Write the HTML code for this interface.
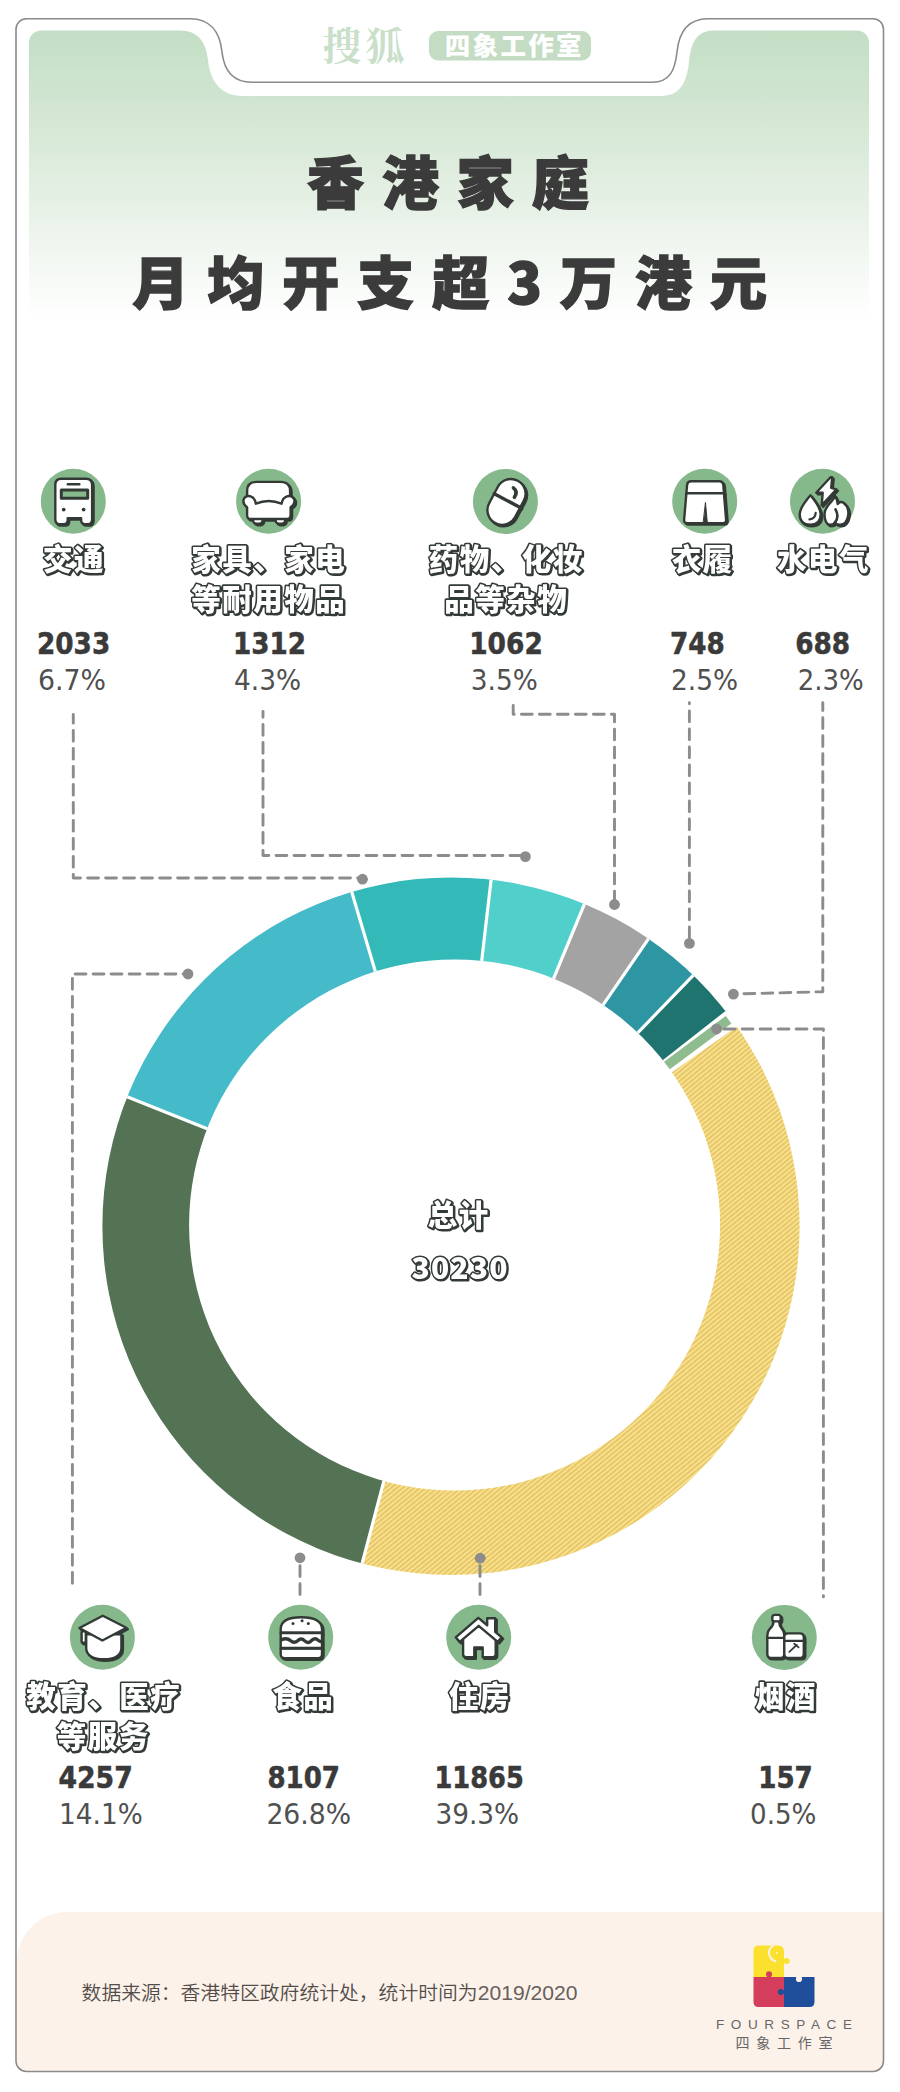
<!DOCTYPE html>
<html lang="zh"><head><meta charset="utf-8"><title>香港家庭月均开支超3万港元</title>
<style>html,body{margin:0;padding:0;background:#fff}body{width:900px;height:2092px;overflow:hidden}svg{display:block}</style>
</head><body>
<svg width="900" height="2092" viewBox="0 0 900 2092"><defs>
<linearGradient id="gtop" x1="0" y1="0" x2="0" y2="1">
<stop offset="0" stop-color="#c3dec4"/><stop offset="0.33" stop-color="#d6e8d6"/><stop offset="0.62" stop-color="#e9f2e8"/><stop offset="0.85" stop-color="#f8fbf8"/><stop offset="0.97" stop-color="#ffffff"/>
</linearGradient>
<pattern id="hatch" width="3.7" height="3.7" patternUnits="userSpaceOnUse" patternTransform="rotate(-39.6)">
<rect width="3.7" height="3.7" fill="#f9e08c"/><rect y="0" width="3.7" height="1.55" fill="#e2c262"/>
</pattern>
</defs>
<path d="M41 30.5 H180 C198 30.5 206 42 208 60 C210 82 222 96 242 96 H661 C680 96 687 82 689 62 C691 42 697 30.5 714 30.5 H857 A12 12 0 0 1 869 42.5 V330 H29 V42.5 A12 12 0 0 1 41 30.5 Z" fill="url(#gtop)"/>
<path d="M17 2071 V1962 A50 50 0 0 1 67 1912 H883 V2061 A10 10 0 0 1 873 2071 H27 A10 10 0 0 1 17 2061 Z" fill="#fdf2ea"/>
<path d="M26.5 18.7 H190 C210 18.7 220 32 222 52 C224 70 232 82.3 252 82.3 H652 C670 82.3 675 70 677 52 C679 32 688 18.7 708 18.7 H873 A10.5 10.5 0 0 1 883.5 29.2 V2061 A10.5 10.5 0 0 1 873 2071.5 H26.5 A10.5 10.5 0 0 1 16 2061 V29.2 A10.5 10.5 0 0 1 26.5 18.7 Z" fill="none" stroke="#8a8a8a" stroke-width="1.6"/>
<text x="322.5" y="59.5" font-family="'Noto Serif CJK SC','Liberation Serif',serif" font-weight="700" font-size="39" fill="#c9dfc9" letter-spacing="4">搜狐</text>
<rect x="429" y="31" width="162" height="29.5" rx="9" fill="#c3dcc3"/>
<text x="514.3" y="55.2" text-anchor="middle" font-family="'Liberation Sans','Noto Sans CJK SC',sans-serif" font-weight="900" font-size="25.5" fill="#fff" letter-spacing="2.3">四象工作室</text>
<text x="307" y="204" font-family="'Liberation Sans','Noto Sans CJK SC',sans-serif" font-weight="900" stroke="#3b3b3b" stroke-width="1.4" font-size="57" letter-spacing="17.9" fill="#3b3b3b">香港家庭</text>
<text x="132.3" y="304" font-family="'Liberation Sans','Noto Sans CJK SC',sans-serif" font-weight="900" stroke="#3b3b3b" stroke-width="1.4" font-size="57" letter-spacing="18" fill="#3b3b3b">月均开支超<tspan font-family="'Noto Sans CJK SC',sans-serif">3</tspan>万港元</text>
<clipPath id="ring"><path clip-rule="evenodd" d="M102.39999999999998 1226.2 A348.6 348.6 0 1 0 799.6 1226.2 A348.6 348.6 0 1 0 102.39999999999998 1226.2 Z M189.10000000000002 1225.0 A265.5 265.5 0 1 0 720.1 1225.0 A265.5 265.5 0 1 0 189.10000000000002 1225.0 Z"/></clipPath>
<g clip-path="url(#ring)">
<path d="M451.0 1226.2 L760.37 1007.96 A378.6 378.6 0 0 1 354.54 1592.31 Z" fill="url(#hatch)"/>
<path d="M451.0 1226.2 L354.54 1592.31 A378.6 378.6 0 0 1 99.43 1085.72 Z" fill="#547354"/>
<path d="M451.0 1226.2 L99.43 1085.72 A378.6 378.6 0 0 1 343.22 863.27 Z" fill="#45bac9"/>
<path d="M451.0 1226.2 L343.22 863.27 A378.6 378.6 0 0 1 494.52 850.11 Z" fill="#33bab8"/>
<path d="M451.0 1226.2 L494.52 850.11 A378.6 378.6 0 0 1 595.88 876.42 Z" fill="#50cfcb"/>
<path d="M451.0 1226.2 L595.88 876.42 A378.6 378.6 0 0 1 665.44 914.19 Z" fill="#a3a3a3"/>
<path d="M451.0 1226.2 L665.44 914.19 A378.6 378.6 0 0 1 714.00 953.86 Z" fill="#2e95a3"/>
<path d="M451.0 1226.2 L714.00 953.86 A378.6 378.6 0 0 1 749.95 993.89 Z" fill="#20746f"/>
<line x1="451.0" y1="1226.2" x2="760.37" y2="1007.96" stroke="#fff" stroke-width="3.2"/>
<line x1="451.0" y1="1226.2" x2="354.54" y2="1592.31" stroke="#fff" stroke-width="3.2"/>
<line x1="451.0" y1="1226.2" x2="99.43" y2="1085.72" stroke="#fff" stroke-width="3.2"/>
<line x1="451.0" y1="1226.2" x2="343.22" y2="863.27" stroke="#fff" stroke-width="3.2"/>
<line x1="451.0" y1="1226.2" x2="494.52" y2="850.11" stroke="#fff" stroke-width="3.2"/>
<line x1="451.0" y1="1226.2" x2="595.88" y2="876.42" stroke="#fff" stroke-width="3.2"/>
<line x1="451.0" y1="1226.2" x2="665.44" y2="914.19" stroke="#fff" stroke-width="3.2"/>
<line x1="451.0" y1="1226.2" x2="714.00" y2="953.86" stroke="#fff" stroke-width="3.2"/>
<path d="M451.0 1226.2 L748.93 992.59 L761.32 1009.31 Z" fill="#fff"/>
<line x1="451.0" y1="1226.2" x2="728.59" y2="1019.66" stroke="#8fbc8f" stroke-width="9.4"/>
</g>
<defs>
<g id="i-bus" stroke="#333a36" stroke-width="2.4" stroke-linejoin="round" stroke-linecap="round">
<path d="M-18 -16.5 Q-18 -22.5 -12 -22.5 H12.6 Q18.8 -22.5 18.8 -16.5 V18 Q18.8 22.8 14.8 22.8 H11.8 Q7.8 22.8 7.8 18.6 V16.8 H-5.6 V18.6 Q-5.6 22.8 -9.6 22.8 H-13.8 Q-18 22.8 -18 18 Z"/>
<path d="M-5.5 -17 H6" fill="none"/>
<rect x="-12" y="-11.3" width="26.4" height="8.2" fill="#85b98b" stroke-width="3"/>
<circle cx="-9.6" cy="8.3" r="1.9" fill="#333a36" stroke="none"/>
<circle cx="10.3" cy="8.3" r="1.9" fill="#333a36" stroke="none"/>
</g>
<g id="i-sofa" stroke="#333a36" stroke-width="2.4" stroke-linejoin="round" stroke-linecap="round">
<path d="M-21.5 4 V-10 Q-21.5 -19.3 -12 -19.3 H12 Q21.5 -19.3 21.5 -10 V4 Z"/>
<rect x="-15.5" y="15.5" width="9.5" height="7" rx="3.2"/>
<rect x="7" y="15.5" width="9.5" height="7" rx="3.2"/>
<path d="M-21.5 14 V6 Q-26 3 -25 -1.5 Q-23.5 -6 -18.5 -5 Q-13.5 -3.5 -12.8 2.5 Q0 -3 13 2.5 Q13.8 -3.5 19 -5 Q24 -6 25.7 -1.5 Q26.8 3 22 6 V14 Q22 17.8 18.5 17.8 H-18 Q-21.5 17.8 -21.5 14 Z"/>
</g>
<g id="i-pill" stroke="#333a36" stroke-width="2.4" stroke-linejoin="round" stroke-linecap="round">
<g transform="translate(1.1 0.4) rotate(28)">
<rect x="-14.7" y="-24" width="29.4" height="48" rx="14.7"/>
<path d="M-14.7 -1.5 H14.7" fill="none" stroke-width="3.4"/>
</g>
<path d="M8 -13.6 Q12.8 -10 9 -4.2" fill="none" stroke-width="3.6"/>
</g>
<g id="i-shorts" stroke="#333a36" stroke-width="2.4" stroke-linejoin="round" stroke-linecap="round">
<path d="M-17.6 -16.5 Q-17.2 -20 -13.5 -20 H14.5 Q18.2 -20 18.6 -16.5 L21.4 18.6 Q21.6 21.8 18.4 21.8 H-17.6 Q-20.8 21.8 -20.6 18.6 Z"/>
<path d="M-18.5 -8 H19.3" fill="none"/>
<path d="M0.8 1.5 L2.6 21.5 H-1.2 Z" fill="#333a36" stroke-width="1"/>
</g>
<g id="i-util" stroke="#333a36" stroke-width="2.4" stroke-linejoin="round" stroke-linecap="round">
<path d="M12.5 -5.5 C14.5 -2.5 15 0 15.2 2.8 C17 0.5 19.5 0 21 1.5 C25.5 5 26.5 10 25.5 15 C24.5 20.5 21 23.5 17.5 23.5 C15 23.5 13.5 22.5 12.5 21 C11.5 22.5 10 23.5 7.5 23.5 C4 23.5 2 19 2 13 C2 7 6 3 9 0 C10.5 -1.5 11.8 -3.5 12.5 -5.5 Z"/>
<path d="M12.5 21 C15.8 17 15.5 12.5 13 8" fill="none" stroke-width="2.6"/>
<path d="M-12 -6 Q-1.8 6.5 -1.8 13 Q-1.8 23.5 -12.3 23.5 Q-22.8 23.5 -22.8 13 Q-22.8 6.5 -12 -6 Z"/>
<path d="M-6.8 11.5 Q-7.3 17.5 -13 18" fill="none" stroke-width="2.2"/>
<path d="M8 -24 L-6.3 -8.6 H0.2 L-0.8 4 L14 -12 L8.7 -13.5 L9.7 -24 Z"/>
</g>
<g id="i-cap" stroke="#333a36" stroke-width="2.4" stroke-linejoin="round" stroke-linecap="round">
<path d="M-16.2 -3 V11 C-16.2 18 -9 22 1.5 22 C12 22 19 18 19 11 V-3 Z"/>
<rect x="-20.8" y="-6" width="4.2" height="11.5" rx="1"/>
<path d="M0.4 -21.5 L24 -9.6 L0 3.2 L-23 -9.3 Z"/>
</g>
<g id="i-burger" stroke="#333a36" stroke-width="2.4" stroke-linejoin="round" stroke-linecap="round">
<path d="M-20 -4.4 V-8 Q-20 -20 0.5 -20 Q21.3 -20 21.3 -8 V-4.4 Z"/>
<path d="M-20 -4.4 H21.3 V10.9 H-20 Z"/>
<path d="M-20 10.9 H21.3 V17 Q21.3 20.9 17.5 20.9 H-16 Q-20 20.9 -20 17 Z"/>
<path d="M-20 -4.4 H21.3 M-20 10.9 H21.3" fill="none" stroke-width="2.9" stroke-linecap="butt"/>
<path d="M-19.5 2.6 Q-14 0 -10 3.4 Q-6.5 6.4 -3 3.4 Q0.5 0 4 3.6 Q7.5 7 11 3 Q14.5 0 17 2.6 Q19 4.6 21 4" fill="none" stroke-width="3.4" stroke-linecap="butt"/>
<circle cx="-7.7" cy="-13.8" r="1.5" fill="#333a36" stroke="none"/>
<circle cx="1.4" cy="-16.6" r="1.5" fill="#333a36" stroke="none"/>
<circle cx="7.6" cy="-13.8" r="1.5" fill="#333a36" stroke="none"/>
</g>
<g id="i-house" stroke="#333a36" stroke-width="2.4" stroke-linejoin="round" stroke-linecap="round">
<path d="M-15.6 1 V17 Q-15.6 20 -12.6 20 H-4.4 V10.2 H4 V20 H14 Q17 20 17 17 V1 L0 -12 Z"/>
<path d="M-0.4 -19.5 L8.5 -12 V-19 H16.5 V-5.5 L23 0 L19 4.6 L0 -11.5 L-19 4.6 L-23 0 Z"/>
</g>
<g id="i-bottle" stroke="#333a36" stroke-width="2.4" stroke-linejoin="round" stroke-linecap="round">
<rect x="-12" y="-22.5" width="8.4" height="7" rx="2.5"/>
<path d="M-10.8 -16 Q-10.8 -12 -14.5 -8.5 Q-17 -6 -17 -2 V16.5 Q-17 20.5 -13 20.5 H-4 Q0 20.5 0 16.5 V-2 Q0 -6 -2.3 -8.5 Q-5.2 -12 -5.2 -16 Z"/>
<path d="M-17 0.5 H0" fill="none"/>
<path d="M0 -0.5 Q0 -4 4 -4 H15.5 Q19.5 -4 19.5 0 V16.5 Q19.5 20.5 15.5 20.5 H4 Q0 20.5 0 16.5 Z"/>
<path d="M0 3.5 H19.5" fill="none"/>
<path d="M5 14.5 L12.5 7.5 M10 6.3 L14.3 10" fill="none" stroke-width="1.8"/>
</g>
</defs>
<circle cx="73.3" cy="501.3" r="32.5" fill="#85b98b"/>
<use href="#i-bus" x="74.8" y="502.8" fill="#333a36"/>
<use href="#i-bus" x="73.3" y="501.3" fill="#fff"/>
<circle cx="268.6" cy="501.2" r="32.5" fill="#85b98b"/>
<use href="#i-sofa" x="270.1" y="502.7" fill="#333a36"/>
<use href="#i-sofa" x="268.6" y="501.2" fill="#fff"/>
<circle cx="505.4" cy="501.5" r="32.5" fill="#85b98b"/>
<use href="#i-pill" x="506.9" y="503.0" fill="#333a36"/>
<use href="#i-pill" x="505.4" y="501.5" fill="#fff"/>
<circle cx="704.7" cy="501.3" r="32.5" fill="#85b98b"/>
<use href="#i-shorts" x="706.2" y="502.8" fill="#333a36"/>
<use href="#i-shorts" x="704.7" y="501.3" fill="#fff"/>
<circle cx="822.5" cy="501.3" r="32.5" fill="#85b98b"/>
<use href="#i-util" x="824.0" y="502.8" fill="#333a36"/>
<use href="#i-util" x="822.5" y="501.3" fill="#fff"/>
<circle cx="102.4" cy="1637.3" r="32.5" fill="#85b98b"/>
<use href="#i-cap" x="103.9" y="1638.8" fill="#333a36"/>
<use href="#i-cap" x="102.4" y="1637.3" fill="#fff"/>
<circle cx="300.7" cy="1637.3" r="32.5" fill="#85b98b"/>
<use href="#i-burger" x="302.2" y="1638.8" fill="#333a36"/>
<use href="#i-burger" x="300.7" y="1637.3" fill="#fff"/>
<circle cx="478.7" cy="1637.3" r="32.5" fill="#85b98b"/>
<use href="#i-house" x="480.2" y="1638.8" fill="#333a36"/>
<use href="#i-house" x="478.7" y="1637.3" fill="#fff"/>
<circle cx="784.3" cy="1637.4" r="32.5" fill="#85b98b"/>
<use href="#i-bottle" x="785.8" y="1638.9" fill="#333a36"/>
<use href="#i-bottle" x="784.3" y="1637.4" fill="#fff"/>
<defs><filter id="sh" x="-5%" y="-12%" width="110%" height="130%"><feOffset in="SourceAlpha" dx="0.7" dy="0.7" result="o"/><feFlood flood-color="#333a36"/><feComposite in2="o" operator="in" result="s"/><feMerge><feMergeNode in="s"/><feMergeNode in="SourceGraphic"/></feMerge></filter></defs>
<text x="74.0" y="570.0" text-anchor="middle" font-family="'Liberation Sans','Noto Sans CJK SC',sans-serif" font-weight="900" font-size="29.5" letter-spacing="1.5" fill="#fff" stroke="#333a36" stroke-width="3.1" stroke-linejoin="round" paint-order="stroke" filter="url(#sh)">交通</text>
<text x="268.8" y="570.0" text-anchor="middle" font-family="'Liberation Sans','Noto Sans CJK SC',sans-serif" font-weight="900" font-size="29.5" letter-spacing="1.5" fill="#fff" stroke="#333a36" stroke-width="3.1" stroke-linejoin="round" paint-order="stroke" filter="url(#sh)">家具、家电</text>
<text x="268.8" y="610.0" text-anchor="middle" font-family="'Liberation Sans','Noto Sans CJK SC',sans-serif" font-weight="900" font-size="29.5" letter-spacing="1.5" fill="#fff" stroke="#333a36" stroke-width="3.1" stroke-linejoin="round" paint-order="stroke" filter="url(#sh)">等耐用物品</text>
<text x="506.2" y="570.0" text-anchor="middle" font-family="'Liberation Sans','Noto Sans CJK SC',sans-serif" font-weight="900" font-size="29.5" letter-spacing="1.5" fill="#fff" stroke="#333a36" stroke-width="3.1" stroke-linejoin="round" paint-order="stroke" filter="url(#sh)">药物、化妆</text>
<text x="506.2" y="610.0" text-anchor="middle" font-family="'Liberation Sans','Noto Sans CJK SC',sans-serif" font-weight="900" font-size="29.5" letter-spacing="1.5" fill="#fff" stroke="#333a36" stroke-width="3.1" stroke-linejoin="round" paint-order="stroke" filter="url(#sh)">品等杂物</text>
<text x="702.8" y="570.0" text-anchor="middle" font-family="'Liberation Sans','Noto Sans CJK SC',sans-serif" font-weight="900" font-size="29.5" letter-spacing="1.5" fill="#fff" stroke="#333a36" stroke-width="3.1" stroke-linejoin="round" paint-order="stroke" filter="url(#sh)">衣履</text>
<text x="823.5" y="570.0" text-anchor="middle" font-family="'Liberation Sans','Noto Sans CJK SC',sans-serif" font-weight="900" font-size="29.5" letter-spacing="1.5" fill="#fff" stroke="#333a36" stroke-width="3.1" stroke-linejoin="round" paint-order="stroke" filter="url(#sh)">水电气</text>
<text x="103.8" y="1707.0" text-anchor="middle" font-family="'Liberation Sans','Noto Sans CJK SC',sans-serif" font-weight="900" font-size="29.5" letter-spacing="1.5" fill="#fff" stroke="#333a36" stroke-width="3.1" stroke-linejoin="round" paint-order="stroke" filter="url(#sh)">教育、医疗</text>
<text x="103.2" y="1747.0" text-anchor="middle" font-family="'Liberation Sans','Noto Sans CJK SC',sans-serif" font-weight="900" font-size="29.5" letter-spacing="1.5" fill="#fff" stroke="#333a36" stroke-width="3.1" stroke-linejoin="round" paint-order="stroke" filter="url(#sh)">等服务</text>
<text x="303.2" y="1707.0" text-anchor="middle" font-family="'Liberation Sans','Noto Sans CJK SC',sans-serif" font-weight="900" font-size="29.5" letter-spacing="1.5" fill="#fff" stroke="#333a36" stroke-width="3.1" stroke-linejoin="round" paint-order="stroke" filter="url(#sh)">食品</text>
<text x="479.8" y="1707.0" text-anchor="middle" font-family="'Liberation Sans','Noto Sans CJK SC',sans-serif" font-weight="900" font-size="29.5" letter-spacing="1.5" fill="#fff" stroke="#333a36" stroke-width="3.1" stroke-linejoin="round" paint-order="stroke" filter="url(#sh)">住房</text>
<text x="786.0" y="1707.0" text-anchor="middle" font-family="'Liberation Sans','Noto Sans CJK SC',sans-serif" font-weight="900" font-size="29.5" letter-spacing="1.5" fill="#fff" stroke="#333a36" stroke-width="3.1" stroke-linejoin="round" paint-order="stroke" filter="url(#sh)">烟酒</text>
<text x="458.8" y="1226.0" text-anchor="middle" font-family="'Liberation Sans','Noto Sans CJK SC',sans-serif" font-weight="900" font-size="29.5" letter-spacing="1.5" fill="#fff" stroke="#333a36" stroke-width="3.1" stroke-linejoin="round" paint-order="stroke" filter="url(#sh)">总计</text>
<text x="460.1" y="1279.0" text-anchor="middle" font-family="'Noto Sans CJK SC','DejaVu Sans',sans-serif" font-weight="900" font-size="30" letter-spacing="1.2" fill="#fff" stroke="#333a36" stroke-width="3.1" stroke-linejoin="round" paint-order="stroke" filter="url(#sh)">30230</text>
<text x="37.00" y="654.0" font-family="'DejaVu Sans','Liberation Sans',sans-serif" font-weight="700" font-size="29.4" fill="#3a3a3a" stroke="#3a3a3a" stroke-width="0.55" textLength="73.20" lengthAdjust="spacingAndGlyphs">2033</text>
<text x="38.00" y="690.0" font-family="'DejaVu Sans','Liberation Sans',sans-serif" font-weight="400" font-size="28.8" fill="#505050" textLength="68.00" lengthAdjust="spacingAndGlyphs">6.7%</text>
<text x="233.00" y="654.0" font-family="'DejaVu Sans','Liberation Sans',sans-serif" font-weight="700" font-size="29.4" fill="#3a3a3a" stroke="#3a3a3a" stroke-width="0.55" textLength="73.00" lengthAdjust="spacingAndGlyphs">1312</text>
<text x="234.00" y="690.0" font-family="'DejaVu Sans','Liberation Sans',sans-serif" font-weight="400" font-size="28.8" fill="#505050" textLength="67.20" lengthAdjust="spacingAndGlyphs">4.3%</text>
<text x="469.20" y="654.0" font-family="'DejaVu Sans','Liberation Sans',sans-serif" font-weight="700" font-size="29.4" fill="#3a3a3a" stroke="#3a3a3a" stroke-width="0.55" textLength="73.60" lengthAdjust="spacingAndGlyphs">1062</text>
<text x="470.80" y="690.0" font-family="'DejaVu Sans','Liberation Sans',sans-serif" font-weight="400" font-size="28.8" fill="#505050" textLength="67.00" lengthAdjust="spacingAndGlyphs">3.5%</text>
<text x="670.00" y="654.0" font-family="'DejaVu Sans','Liberation Sans',sans-serif" font-weight="700" font-size="29.4" fill="#3a3a3a" stroke="#3a3a3a" stroke-width="0.55" textLength="54.80" lengthAdjust="spacingAndGlyphs">748</text>
<text x="671.00" y="690.0" font-family="'DejaVu Sans','Liberation Sans',sans-serif" font-weight="400" font-size="28.8" fill="#505050" textLength="67.00" lengthAdjust="spacingAndGlyphs">2.5%</text>
<text x="795.20" y="654.0" font-family="'DejaVu Sans','Liberation Sans',sans-serif" font-weight="700" font-size="29.4" fill="#3a3a3a" stroke="#3a3a3a" stroke-width="0.55" textLength="55.00" lengthAdjust="spacingAndGlyphs">688</text>
<text x="797.80" y="690.0" font-family="'DejaVu Sans','Liberation Sans',sans-serif" font-weight="400" font-size="28.8" fill="#505050" textLength="66.00" lengthAdjust="spacingAndGlyphs">2.3%</text>
<text x="58.40" y="1787.8" font-family="'DejaVu Sans','Liberation Sans',sans-serif" font-weight="700" font-size="29.4" fill="#3a3a3a" stroke="#3a3a3a" stroke-width="0.55" textLength="74.40" lengthAdjust="spacingAndGlyphs">4257</text>
<text x="59.00" y="1823.7" font-family="'DejaVu Sans','Liberation Sans',sans-serif" font-weight="400" font-size="28.8" fill="#505050" textLength="83.80" lengthAdjust="spacingAndGlyphs">14.1%</text>
<text x="267.40" y="1787.8" font-family="'DejaVu Sans','Liberation Sans',sans-serif" font-weight="700" font-size="29.4" fill="#3a3a3a" stroke="#3a3a3a" stroke-width="0.55" textLength="72.60" lengthAdjust="spacingAndGlyphs">8107</text>
<text x="266.40" y="1823.7" font-family="'DejaVu Sans','Liberation Sans',sans-serif" font-weight="400" font-size="28.8" fill="#505050" textLength="84.80" lengthAdjust="spacingAndGlyphs">26.8%</text>
<text x="434.40" y="1787.8" font-family="'DejaVu Sans','Liberation Sans',sans-serif" font-weight="700" font-size="29.4" fill="#3a3a3a" stroke="#3a3a3a" stroke-width="0.55" textLength="89.40" lengthAdjust="spacingAndGlyphs">11865</text>
<text x="435.40" y="1823.7" font-family="'DejaVu Sans','Liberation Sans',sans-serif" font-weight="400" font-size="28.8" fill="#505050" textLength="83.80" lengthAdjust="spacingAndGlyphs">39.3%</text>
<text x="758.20" y="1787.8" font-family="'DejaVu Sans','Liberation Sans',sans-serif" font-weight="700" font-size="29.4" fill="#3a3a3a" stroke="#3a3a3a" stroke-width="0.55" textLength="54.60" lengthAdjust="spacingAndGlyphs">157</text>
<text x="750.00" y="1823.7" font-family="'DejaVu Sans','Liberation Sans',sans-serif" font-weight="400" font-size="28.8" fill="#505050" textLength="66.40" lengthAdjust="spacingAndGlyphs">0.5%</text>
<path d="M73.3 714.45 V878 H362" fill="none" stroke="#8c8c8c" stroke-width="2.9" stroke-dasharray="10.8 7.2" stroke-dashoffset="2.1" stroke-linecap="round" stroke-linejoin="round"/>
<circle cx="362.5" cy="879.2" r="5.4" fill="#8c8c8c"/>
<path d="M263 711.55 V855.5 H525" fill="none" stroke="#8c8c8c" stroke-width="2.9" stroke-dasharray="10.8 7.2" stroke-dashoffset="5.0" stroke-linecap="round" stroke-linejoin="round"/>
<circle cx="525.4" cy="856.6" r="5.4" fill="#8c8c8c"/>
<path d="M513.2 705.4 V714.2 H614.5 V904" fill="none" stroke="#8c8c8c" stroke-width="2.9" stroke-dasharray="10.8 7.2" stroke-dashoffset="1.0" stroke-linecap="round" stroke-linejoin="round"/>
<circle cx="614.5" cy="904.5" r="5.4" fill="#8c8c8c"/>
<path d="M689.4 702.65 V943" fill="none" stroke="#8c8c8c" stroke-width="2.9" stroke-dasharray="10.8 7.2" stroke-dashoffset="9.7" stroke-linecap="round" stroke-linejoin="round"/>
<circle cx="689.4" cy="943.4" r="5.4" fill="#8c8c8c"/>
<path d="M822.8 702.65 V991.7 L733.4 994.1" fill="none" stroke="#8c8c8c" stroke-width="2.9" stroke-dasharray="10.8 7.2" stroke-dashoffset="2.9" stroke-linecap="round" stroke-linejoin="round"/>
<circle cx="733.4" cy="994.1" r="5.4" fill="#8c8c8c"/>
<path d="M72.4 1583.25 V974 H188" fill="none" stroke="#8c8c8c" stroke-width="2.9" stroke-dasharray="10.8 7.2" stroke-dashoffset="0" stroke-linecap="round" stroke-linejoin="round"/>
<circle cx="188" cy="974" r="5.4" fill="#8c8c8c"/>
<path d="M300 1594.55 V1560" fill="none" stroke="#8c8c8c" stroke-width="2.9" stroke-dasharray="10.8 7.2" stroke-dashoffset="0" stroke-linecap="round" stroke-linejoin="round"/>
<circle cx="300" cy="1557.8" r="5.4" fill="#8c8c8c"/>
<path d="M480 1594.55 V1560" fill="none" stroke="#8c8c8c" stroke-width="2.9" stroke-dasharray="10.8 7.2" stroke-dashoffset="0" stroke-linecap="round" stroke-linejoin="round"/>
<circle cx="480.2" cy="1558.2" r="5.4" fill="#8c8c8c"/>
<path d="M823.4 1596.9 V1029 H716.5" fill="none" stroke="#8c8c8c" stroke-width="2.9" stroke-dasharray="10.8 7.2" stroke-dashoffset="9.65" stroke-linecap="round" stroke-linejoin="round"/>
<circle cx="716.5" cy="1029" r="5.4" fill="#8c8c8c"/>
<text x="81.6" y="1999.8" font-family="'Liberation Sans','Noto Sans CJK SC',sans-serif" font-weight="350" font-size="19.8" fill="#524d49" textLength="396" lengthAdjust="spacing">数据来源：香港特区政府统计处，统计时间为</text>
<text x="477.8" y="1999.8" font-family="'Liberation Sans',sans-serif" font-weight="400" font-size="20.6" fill="#66615d" textLength="99.6" lengthAdjust="spacingAndGlyphs">2019/2020</text>
<g>
<path d="M753.5 1950.5 Q753.5 1945.5 758.5 1945.5 H778 Q784 1945.5 784 1951.5 V1977 H753.5 Z" fill="#fbe12e"/>
<circle cx="786.6" cy="1961" r="3" fill="#fbe12e"/>
<path d="M753.5 1977 H784 V2007 H758.5 Q753.5 2007 753.5 2002 Z" fill="#d53d5c"/>
<path d="M784 1977 H814.5 V2002 Q814.5 2007 809.5 2007 H784 Z" fill="#1f4f9b"/>
<rect x="767.3" y="1974" width="3.4" height="4" fill="#d53d5c"/>
<circle cx="769" cy="1974.2" r="3" fill="#d53d5c"/>
<rect x="781" y="1990.3" width="4" height="3.4" fill="#1f4f9b"/>
<circle cx="780.8" cy="1992" r="3" fill="#1f4f9b"/>
<circle cx="799" cy="1979" r="3.1" fill="#fdf2ea"/>
<rect x="796.6" y="1976.5" width="4.8" height="2" fill="#fdf2ea"/>
<path d="M773 1946 Q768 1949 769 1954 Q770.5 1960 775.5 1961.3" fill="none" stroke="#fdf2ea" stroke-width="2" stroke-linecap="round"/>
<circle cx="777" cy="1953" r="1" fill="#fdf2ea"/>
</g>
<text x="716" y="2028.5" font-family="'Liberation Sans',sans-serif" font-size="13.5" fill="#666" textLength="136" lengthAdjust="spacing">FOURSPACE</text>
<text x="735.5" y="2048" font-family="'Liberation Sans','Noto Sans CJK SC',sans-serif" font-size="14" fill="#666" textLength="97" lengthAdjust="spacing">四象工作室</text></svg>
</body></html>
